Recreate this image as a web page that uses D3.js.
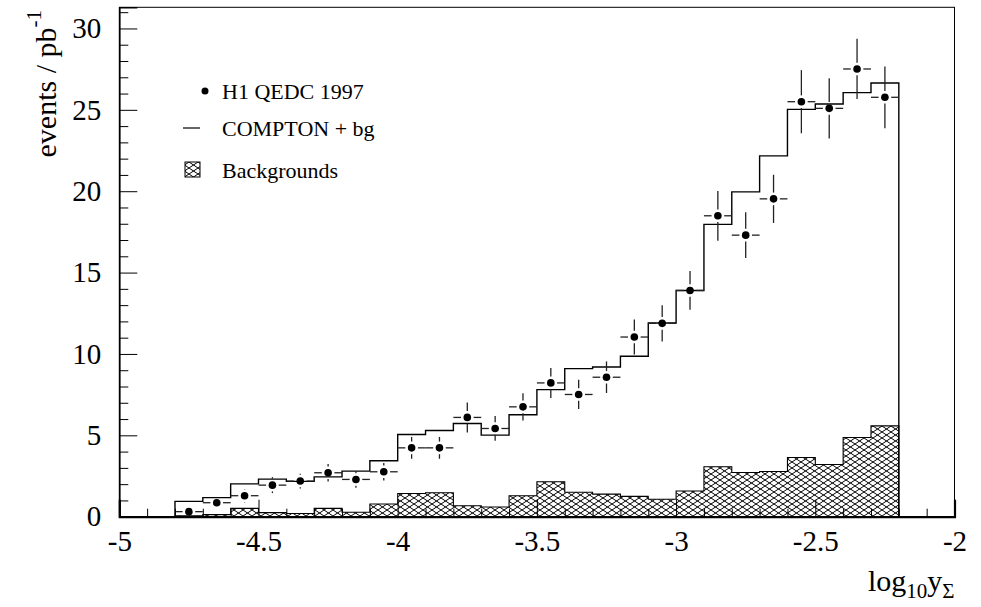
<!DOCTYPE html>
<html>
<head>
<meta charset="utf-8">
<script src="https://cdn.jsdelivr.net/npm/d3@7"></script>
<style>
  html, body { margin: 0; padding: 0; background: #fff; }
  svg { display: block; font-family: "Liberation Serif", "DejaVu Serif", serif; }
</style>
</head>
<body>
<svg id="chart" width="981" height="607"></svg>
<script>
// ---- data ----
const binLow = [-4.8,-4.7,-4.6,-4.5,-4.4,-4.3,-4.2,-4.1,-4.0,-3.9,-3.8,-3.7,-3.6,-3.5,-3.4,-3.3,-3.2,-3.1,-3.0,-2.9,-2.8,-2.7,-2.6,-2.5,-2.4,-2.3];
const binWidth = 0.1;
const dataValues = [0.31,0.86,1.29,1.94,2.19,2.70,2.29,2.76,4.23,4.23,6.10,5.42,6.75,8.22,7.51,8.57,11.04,11.88,13.9,18.49,17.30,19.53,25.50,25.09,27.51,25.77];
const dataErrors = [0.18,0.30,0.41,0.49,0.45,0.54,0.51,0.54,0.67,0.67,0.92,0.76,0.84,0.92,0.90,0.97,1.08,1.12,1.19,1.53,1.40,1.48,1.94,1.85,1.85,1.90];
const comptonBg = [0.94,1.17,2.02,2.31,2.17,2.45,2.80,3.44,5.05,5.30,5.73,5.01,6.26,7.81,9.10,9.20,9.86,11.9,13.9,17.96,19.96,22.17,25.03,25.36,26.06,26.65];
const backgrounds = [0.06,0.13,0.51,0.25,0.20,0.51,0.27,0.78,1.43,1.47,0.67,0.60,1.29,2.15,1.50,1.39,1.25,1.07,1.58,3.07,2.72,2.78,3.64,3.21,4.87,5.58];
const xMajorTicks = [-5,-4.5,-4,-3.5,-3,-2.5,-2];
const xTickLabels = ["-5","-4.5","-4","-3.5","-3","-2.5","-2"];
const yMajorTicks = [0,5,10,15,20,25,30];
const yTickLabels = ["0","5","10","15","20","25","30"];
const legendLabels = ["H1 QEDC 1997","COMPTON + bg","Backgrounds"];

// ---- layout ----
const X0 = 119.3, X1 = 954.5, YB = 516.7, YT = 7.3;
const x = d3.scaleLinear().domain([-5, -2]).range([X0, X1]);
const y = d3.scaleLinear().domain([0, 31.3]).range([YB, YT]);

const svg = d3.select("#chart");

// hatch pattern
const defs = svg.append("defs");
const pw = 9, ph = 6;
const pat = defs.append("pattern").attr("id", "hatch")
  .attr("patternUnits", "userSpaceOnUse").attr("width", pw).attr("height", ph);
pat.append("path").attr("d", `M0,0L${pw},${ph}M0,${ph}L${pw},0M${-pw},0L0,${ph}M${pw},${ph}L${2*pw},0`)
  .attr("stroke", "#000").attr("stroke-width", 1).attr("fill", "none");

// backgrounds histogram (hatched)
const bgPts = binLow.map((b, i) => [b, backgrounds[i]]);
bgPts.push([binLow[binLow.length - 1] + binWidth, backgrounds[backgrounds.length - 1]]);
const area = d3.area().curve(d3.curveStepAfter)
  .x(d => x(d[0])).y0(y(0)).y1(d => y(d[1]));
svg.append("path").datum(bgPts).attr("d", area)
  .attr("fill", "url(#hatch)").attr("stroke", "#000").attr("stroke-width", 1.1);

// COMPTON + bg step histogram
const mcPts = [[binLow[0], 0]];
binLow.forEach((b, i) => { mcPts.push([b, comptonBg[i]]); mcPts.push([b + binWidth, comptonBg[i]]); });
mcPts.push([binLow[binLow.length - 1] + binWidth, 0]);
svg.append("path").datum(mcPts)
  .attr("d", d3.line().x(d => x(d[0])).y(d => y(d[1])))
  .attr("fill", "none").attr("stroke", "#000").attr("stroke-width", 1.4);

// data points with error bars
const r = 3.8, gap = 2.5;
const pts = svg.append("g");
binLow.forEach((b, i) => {
  const cx = x(b + binWidth / 2), cy = y(dataValues[i]);
  const xl = x(b), xr = x(b + binWidth);
  const yt = y(dataValues[i] + dataErrors[i]), yb = y(dataValues[i] - dataErrors[i]);
  const add = (x1, y1, x2, y2) => pts.append("line")
    .attr("x1", x1).attr("y1", y1).attr("x2", x2).attr("y2", y2)
    .attr("stroke", "#222").attr("stroke-width", 1.3);
  if (cx - r - gap > xl) add(xl, cy, cx - r - gap, cy);
  if (cx + r + gap < xr) add(cx + r + gap, cy, xr, cy);
  if (cy - r - gap > yt) add(cx, yt, cx, cy - r - gap);
  if (cy + r + gap < yb) add(cx, cy + r + gap, cx, yb);
  pts.append("circle").attr("cx", cx).attr("cy", cy).attr("r", r).attr("fill", "#000");
});

// frame
svg.append("rect").attr("x", X0).attr("y", YT).attr("width", X1 - X0).attr("height", YB - YT)
  .attr("fill", "none").attr("stroke", "#000").attr("stroke-width", 1);

// x axis
const xMinor = d3.range(-50, -19).map(v => v / 10).filter(v => !xMajorTicks.some(m => Math.abs(m - v) < 1e-9));
const gx = svg.append("g").attr("transform", `translate(0,${YB})`);
gx.call(d3.axisBottom(x).tickValues(xMajorTicks).tickSize(-17).tickPadding(14)
  .tickFormat((d, i) => xTickLabels[i]));
const gxm = svg.append("g").attr("transform", `translate(0,${YB})`);
gxm.call(d3.axisBottom(x).tickValues(xMinor).tickSize(-8).tickFormat(""));
gxm.select(".domain").remove();
gx.select(".domain").attr("stroke-width", 2.2);
[gx, gxm].forEach(g => g.selectAll(".tick line").attr("stroke", "#000").attr("stroke-width", 1));
gx.selectAll(".tick text").attr("font-size", 29).attr("font-family", "Liberation Serif").attr("fill", "#000");

// y axis
const yMinor = d3.range(0, 32).filter(v => v % 5 !== 0);
const gy = svg.append("g").attr("transform", `translate(${X0},0)`);
gy.call(d3.axisLeft(y).tickValues(yMajorTicks).tickSize(-18).tickPadding(18)
  .tickFormat((d, i) => yTickLabels[i]));
const gym = svg.append("g").attr("transform", `translate(${X0},0)`);
gym.call(d3.axisLeft(y).tickValues(yMinor).tickSize(-9).tickFormat(""));
gym.select(".domain").remove();
gy.select(".domain").attr("stroke-width", 1.6);
[gy, gym].forEach(g => g.selectAll(".tick line").attr("stroke", "#000").attr("stroke-width", 1));
gy.selectAll(".tick text").attr("font-size", 29).attr("font-family", "Liberation Serif").attr("fill", "#000");

// axis titles
const xt = svg.append("text").attr("x", X1).attr("y", 591).attr("text-anchor", "end")
  .attr("font-size", 30).attr("fill", "#000");
xt.append("tspan").text("log");
xt.append("tspan").attr("font-size", 21).attr("dy", 7).text("10");
xt.append("tspan").attr("dy", -7).text("y");
xt.append("tspan").attr("font-size", 21).attr("dy", 7).text("Σ");

const yt = svg.append("text").attr("transform", `translate(56,10) rotate(-90)`)
  .attr("text-anchor", "end").attr("font-size", 30).attr("fill", "#000");
yt.append("tspan").text("events / pb");
yt.append("tspan").attr("font-size", 21).attr("dy", -15).text("-1");

// legend
const lg = svg.append("g");
lg.append("circle").attr("cx", 205).attr("cy", 91).attr("r", 3.5).attr("fill", "#000");
lg.append("line").attr("x1", 183).attr("x2", 200).attr("y1", 128).attr("y2", 128)
  .attr("stroke", "#000").attr("stroke-width", 1.2);
lg.append("rect").attr("x", 185).attr("y", 162).attr("width", 15).attr("height", 15)
  .attr("fill", "url(#hatch)").attr("stroke", "#000").attr("stroke-width", 1);
const ly = [91, 128, 170];
lg.selectAll("text.leg").data(legendLabels).join("text").attr("class", "leg")
  .attr("x", 222).attr("y", (d, i) => ly[i]).attr("dy", "0.35em")
  .attr("font-size", 22).attr("fill", "#000").text(d => d);
</script>
</body>
</html>
